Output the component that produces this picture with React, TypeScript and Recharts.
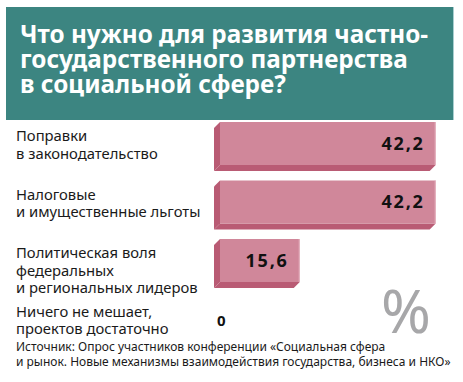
import React from "react";
import { BarChart, Bar, XAxis, YAxis, LabelList } from "recharts";

const TITLE = ["Что нужно для развития частно-", "государственного партнерства", "в социальной сфере?"];
const CATEGORIES = [
  "Поправки\nв законодательство",
  "Налоговые\nи имущественные льготы",
  "Политическая воля\nфедеральных\nи региональных лидеров",
  "Ничего не мешает,\nпроектов достаточно",
];
const VALUES = [42.2, 42.2, 15.6, 0];
const SOURCE = [
  "Источник:  Опрос участников конференции «Социальная сфера",
  "и рынок. Новые механизмы взаимодействия государства, бизнеса и НКО»",
];

const TEAL = "#3c8581";
const FRONT = "#d0879a";
const SIDE = "#b95b74";
const EDGE = "#e6b4c1";
const FONT = "'Noto Sans', sans-serif";
const DEPTH = 6;

const data = CATEGORIES.map((c, i) => ({ name: c, value: VALUES[i] }));

const fmt = (v: number) => String(v).replace(".", ",");

function Bar3D(props: any) {
  const { x, y, width, height } = props;
  if (!width || width <= 0) return null;
  const fh = height - DEPTH;
  return (
    <g>
      <polygon points={`${x - DEPTH},${y + DEPTH} ${x},${y} ${x},${y + fh} ${x - DEPTH},${y + fh + DEPTH}`} fill={SIDE} />
      <polygon points={`${x - DEPTH},${y + fh + DEPTH} ${x},${y + fh} ${x + width},${y + fh} ${x + width - DEPTH},${y + fh + DEPTH}`} fill={SIDE} />
      <rect x={x} y={y} width={width} height={fh} fill={FRONT} />
      <line x1={x + width - 0.5} y1={y} x2={x + width - 0.5} y2={y + fh} stroke={EDGE} strokeWidth={1} />
    </g>
  );
}

function ValueLabel(props: any) {
  const { x, y, width, height, value } = props;
  const fh = height - DEPTH;
  if (!value) {
    return (
      <text x={x - 3} y={y + fh / 2 + 2} dy="0.35em" fontFamily={FONT} fontWeight={700} fontSize={15} fill="#111">
        {fmt(value)}
      </text>
    );
  }
  return (
    <text x={x + width - 11} y={y + fh / 2} dy="0.35em" textAnchor="end" fontFamily={FONT} fontWeight={700} fontSize={18} letterSpacing={1.8} fill="#111">
      {fmt(value)}
    </text>
  );
}

function CategoryTick(props: any) {
  const { y, payload } = props;
  const lines = String(payload.value).split("\n");
  return (
    <text x={16} y={y - 10} fontFamily={FONT} fontSize={14.8} fill="#1a1a1a" textAnchor="start">
      {lines.map((l, i) => (
        <tspan key={i} x={16} dy={i === 0 ? "0.35em" : 17.5}>
          {l}
        </tspan>
      ))}
    </text>
  );
}

export default function App() {
  return (
    <div style={{ position: "absolute", left: 0, top: 0, width: 463, height: 382, background: "#fff", overflow: "hidden" }}>
      <div
        style={{
          position: "absolute",
          left: 6,
          top: 7,
          width: 447,
          height: 113,
          background: TEAL,
          borderRight: "1px solid #a9cfd0",
        }}
      />
      <div
        style={{
          position: "absolute",
          left: 20,
          top: 21,
          color: "#fff",
          fontFamily: FONT,
          fontWeight: 700,
          fontSize: 24.3,
          lineHeight: "25px",
          whiteSpace: "nowrap",
        }}
      >
        {TITLE.map((t, i) => (
          <div key={i}>{t}</div>
        ))}
      </div>
      <div style={{ position: "absolute", left: 0, top: 0 }}>
        <BarChart
          width={463}
          height={382}
          data={data}
          layout="vertical"
          margin={{ top: 117, right: 13, bottom: 31, left: 0 }}
          barSize={49}
        >
          <XAxis type="number" domain={[0, 45]} hide />
          <YAxis type="category" dataKey="name" width={220} axisLine={false} tickLine={false} tick={<CategoryTick />} interval={0} />
          <Bar dataKey="value" shape={<Bar3D />} isAnimationActive={false}>
            <LabelList dataKey="value" content={<ValueLabel />} />
          </Bar>
        </BarChart>
      </div>
      <div
        style={{
          position: "absolute",
          left: 381,
          top: 278,
          color: "#a7a7a9",
          fontFamily: FONT,
          fontSize: 60,
          lineHeight: "64px",
        }}
      >
        %
      </div>
      <div
        style={{
          position: "absolute",
          left: 16,
          top: 340,
          color: "#1a1a1a",
          fontFamily: FONT,
          fontSize: 12,
          lineHeight: "14.5px",
          whiteSpace: "nowrap",
        }}
      >
        {SOURCE.map((t, i) => (
          <div key={i}>{t}</div>
        ))}
      </div>
    </div>
  );
}
